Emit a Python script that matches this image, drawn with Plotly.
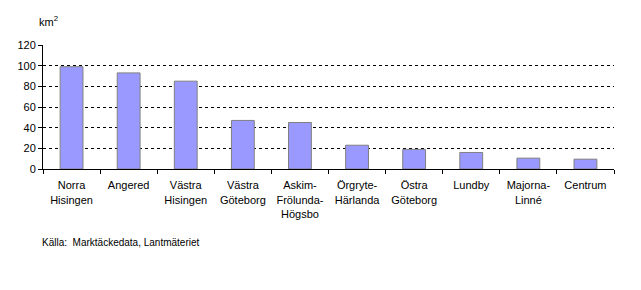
import plotly.graph_objects as go

categories = ["Norra<br>Hisingen", "Angered", "Västra<br>Hisingen", "Västra<br>Göteborg",
              "Askim-<br>Frölunda-<br>Högsbo", "Örgryte-<br>Härlanda", "Östra<br>Göteborg",
              "Lundby", "Majorna-<br>Linné", "Centrum"]
values = [99, 93, 85, 47, 45, 23, 19, 16, 10.5, 9.5]
y_ticks = [0, 20, 40, 60, 80, 100, 120]

fig = go.Figure(go.Bar(
    x=categories, y=values, width=0.4,
    marker=dict(color="#9999FF", line=dict(color="#808080", width=1)),
))

font = dict(family="Liberation Sans, Arial, sans-serif", size=11, color="black")

fig.update_layout(
    width=641, height=290,
    margin=dict(l=43, r=27, t=45, b=121),
    plot_bgcolor="white", paper_bgcolor="white",
    font=font, showlegend=False,
    xaxis=dict(showline=True, linecolor="black", linewidth=1, ticks="outside",
               tickson="boundaries", ticklen=4, tickcolor="black",
               showgrid=False, tickfont=font, ticklabelstandoff=6),
    yaxis=dict(range=[0, 120], tickvals=y_ticks, showline=True, linecolor="black",
               linewidth=1, ticks="outside", ticklen=4, tickcolor="black",
               showgrid=True, gridcolor="black", gridwidth=1, griddash="3px,3px",
               zeroline=False, tickfont=font),
    annotations=[
        dict(text="km<sup>2</sup>", xref="paper", yref="paper", x=-0.01, y=1.19,
             xanchor="left", yanchor="middle", showarrow=False, font=font),
        dict(text="Källa:  Marktäckedata, Lantmäteriet", xref="paper", yref="paper",
             x=-0.005, y=-0.59, xanchor="left", yanchor="middle", showarrow=False,
             font=dict(family="Liberation Sans, Arial, sans-serif", size=10, color="black")),
    ],
)

fig.write_html("out.html")
